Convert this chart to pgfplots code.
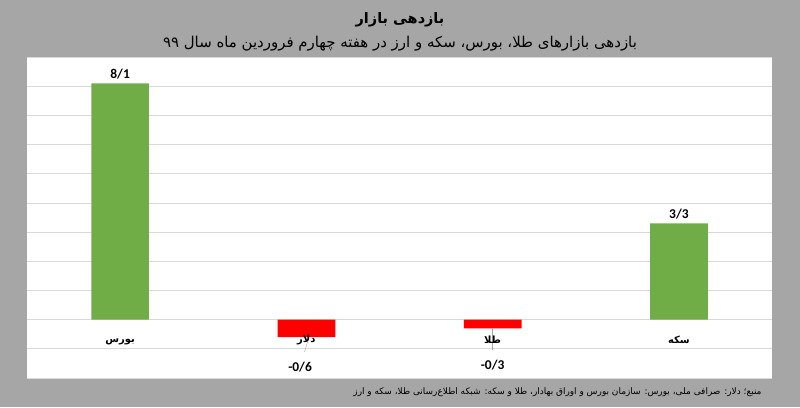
\documentclass[border=0pt]{standalone}
\usepackage{pgfplots}
\pgfplotsset{compat=1.18}
\usepackage{fontspec}
\setmainfont{Carlito}
\newfontfamily\arabicfont[Script=Arabic]{DejaVu Sans}
\TeXXeTstate=1
\definecolor{bggray}{HTML}{A6A6A6}
\definecolor{bargreen}{HTML}{70AD47}
\definecolor{barred}{HTML}{FF0000}
\definecolor{gridgray}{HTML}{D9D9D9}
\begin{document}
\begin{tikzpicture}[x=1bp,y=1bp]
\fill[bggray] (-27,-29) rectangle (773,378);
\begin{axis}[
  at={(0,0)}, anchor=south west,
  scale only axis, width=745bp, height=321bp,
  xmin=-0.5, xmax=3.5, ymin=-2, ymax=9,
  ybar, bar width=0.31,
  axis background/.style={fill=white},
  axis line style={draw=none},
  xtick=\empty,
  ytick={-2,-1,0,1,2,3,4,5,6,7,8,9},
  yticklabels={},
  major tick style={draw=none},
  ymajorgrids, grid style={gridgray, line width=0.8pt},
  clip=false,
]
\addplot[fill=bargreen, draw=none, bar shift=0pt,
  nodes near coords, point meta=explicit symbolic,
  every node near coord/.append style={font=\bfseries\fontsize{13.5}{15}\selectfont, black, yshift=1pt}]
  coordinates {(0,8.1) [8/1] (3,3.3) [3/3]};
\addplot[fill=barred, draw=none, bar shift=0pt]
  coordinates {(1,-0.6) (2,-0.3)};
% leader lines and negative value labels
\draw[gray!70] (axis cs:0.99,-1.1) -- (axis cs:1.01,-0.7);
\draw[gray!70] (axis cs:2.0,-1.05) -- (axis cs:2.0,-0.3);
\node[font=\bfseries\fontsize{13.5}{15}\selectfont] at (axis cs:0.966,-1.62) {-0/6};
\node[font=\bfseries\fontsize{13.5}{15}\selectfont] at (axis cs:2.0,-1.55) {-0/3};
% category labels
\node[font=\arabicfont\bfseries\fontsize{10}{12}\selectfont] at (axis cs:0,-0.76) {\beginR بورس\endR};
\node[font=\arabicfont\bfseries\fontsize{10}{12}\selectfont] at (axis cs:1,-0.68) {\beginR دلار\endR};
\node[font=\arabicfont\bfseries\fontsize{10}{12}\selectfont] at (axis cs:2,-0.68) {\beginR طلا\endR};
\node[font=\arabicfont\bfseries\fontsize{10}{12}\selectfont] at (axis cs:3,-0.7) {\beginR سکه\endR};
\end{axis}
\node[font=\arabicfont\bfseries\fontsize{14.5}{16}\selectfont] at (373,358) {\beginR بازدهی بازار\endR};
\node[font=\arabicfont\fontsize{15}{17}\selectfont] at (373,334) {\beginR بازدهی بازارهای طلا، بورس، سکه و ارز در هفته چهارم فروردین ماه سال ۹۹\endR};
\node[font=\arabicfont\fontsize{9}{11}\selectfont, anchor=east] at (738,-14) {\beginR منبع؛ دلار: صرافی ملی، بورس: سازمان بورس و اوراق بهادار، طلا و سکه: شبکه اطلاع‌رسانی طلا، سکه و ارز\endR};
\end{tikzpicture}
\end{document}
